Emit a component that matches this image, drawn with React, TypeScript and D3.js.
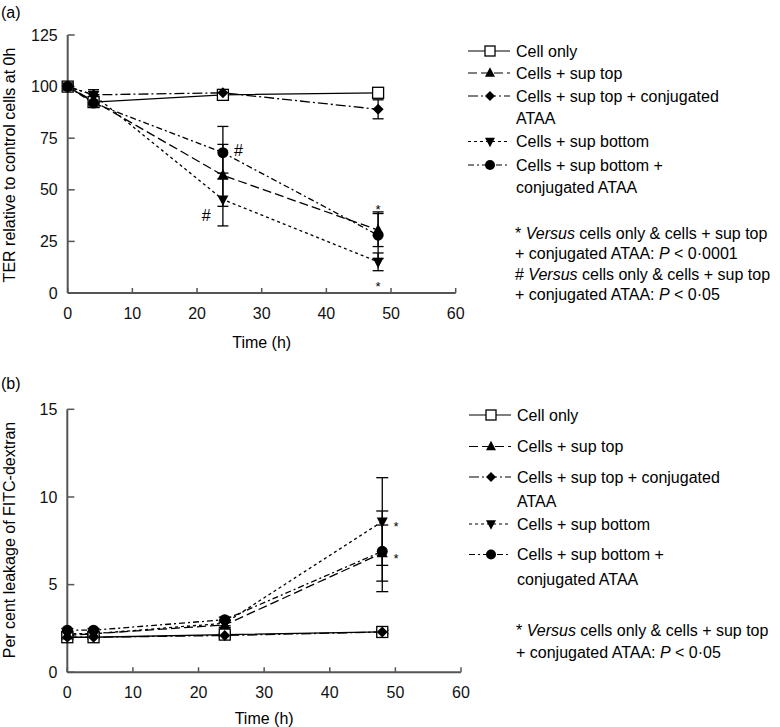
import React from 'react';
import * as d3 from 'd3';

const times = [0, 4, 24, 48];
const xTicks = [0, 10, 20, 30, 40, 50, 60];

const seriesLabels = [
  ['Cell only'],
  ['Cells + sup top'],
  ['Cells + sup top + conjugated', 'ATAA'],
  ['Cells + sup bottom'],
  ['Cells + sup bottom +', 'conjugated ATAA'],
];

// Panel (a): TER relative to control cells at 0 h
const terCellOnly = [100, 92.5, 96, 97];
const terSupTop = [100, 93, 57, 30.5];
const terSupTopConj = [100, 96, 97, 89];
const terSupBottom = [100, 96, 45.3, 15.1];
const terSupBottomConj = [100, 92, 68, 28];
const terErrCellOnly = [0, 1.5, 1.2, 1];
const terErrSupTop = [0, 2, 15, 8];
const terErrSupTopConj = [0, 1.5, 1, 4.6];
const terErrSupBottom = [0, 2.5, 12.8, 4.3];
const terErrSupBottomConj = [0, 2, 12.7, 11.3];
const terTicks = [0, 25, 50, 75, 100, 125];
const terAnnotations = [
  { t: 26.4, v: 69.3, label: '#' },
  { t: 21.4, v: 37.8, label: '#' },
  { t: 48, v: 42.3, label: '*' },
  { t: 48, v: 4.9, label: '*' },
];

// Panel (b): per cent leakage of FITC-dextran
const leakCellOnly = [2.0, 2.0, 2.15, 2.3];
const leakSupTop = [2.1, 2.2, 2.7, 6.8];
const leakSupTopConj = [2.0, 2.0, 2.1, 2.3];
const leakSupBottom = [2.2, 2.2, 2.8, 8.6];
const leakSupBottomConj = [2.4, 2.4, 3.0, 6.9];
const leakErrCellOnly = [0.1, 0.1, 0.1, 0.1];
const leakErrSupTop = [0.1, 0.1, 0.15, 1.6];
const leakErrSupTopConj = [0.1, 0.1, 0.1, 0.1];
const leakErrSupBottom = [0.1, 0.1, 0.15, 2.5];
const leakErrSupBottomConj = [0.1, 0.1, 0.15, 2.3];
const leakTicks = [0, 5, 10, 15];
const leakAnnotations = [
  { t: 50.1, v: 8.5, label: '*' },
  { t: 50.1, v: 6.7, label: '*' },
];

type Shape = 'square' | 'triUp' | 'diamond' | 'triDown' | 'circle';
const shapes: Shape[] = ['square', 'triUp', 'diamond', 'triDown', 'circle'];
const dashes = ['', '9,4', '10,3,2,3', '3,3', '6,3,2,3'];

const FONT = '"Liberation Sans", Arial, Helvetica, sans-serif';
const AXIS = '#555';

function Marker({ shape, x, y, s }: { shape: Shape; x: number; y: number; s: number }) {
  const h = s / 2;
  switch (shape) {
    case 'square':
      return <rect x={x - h} y={y - h} width={s} height={s} fill="#fff" stroke="#000" strokeWidth={1.3} />;
    case 'triUp':
      return <path d={`M${x},${y - h * 1.15}L${x + h},${y + h * 0.75}L${x - h},${y + h * 0.75}Z`} fill="#000" />;
    case 'triDown':
      return <path d={`M${x},${y + h * 1.15}L${x + h},${y - h * 0.75}L${x - h},${y - h * 0.75}Z`} fill="#000" />;
    case 'diamond':
      return <path d={`M${x},${y - h}L${x + h},${y}L${x},${y + h}L${x - h},${y}Z`} fill="#000" />;
    default:
      return <circle cx={x} cy={y} r={h} fill="#000" />;
  }
}

interface PanelProps {
  tag: string;
  tagY: number;
  xRange: [number, number];
  yRange: [number, number];
  yMax: number;
  yTicks: number[];
  yTitle: string;
  yTitleY: number;
  series: number[][];
  errors: number[][];
  annotations: { t: number; v: number; label: string }[];
  legendRows: number[];
  legendGap: number;
  legendX0: number;
  footnotes: { sym: string; p: string }[];
  footY: number[];
  titleY: number;
  markerSize: number;
  capW: number;
}

function Panel(p: PanelProps) {
  const x = d3.scaleLinear().domain([0, 60]).range(p.xRange);
  const y = d3.scaleLinear().domain([0, p.yMax]).range(p.yRange);
  const line = d3
    .line<number>()
    .x((_, i) => x(times[i]))
    .y((d) => y(d));
  const lx0 = p.legendX0;
  const lx1 = lx0 + 42;
  const lxm = lx0 + 22;
  const tx = lx0 + 48;
  return (
    <g fontFamily={FONT} fill="#000">
      <text x={1} y={p.tagY} fontSize={16} dy="0.35em">{p.tag}</text>
      {/* axes */}
      <line x1={x(0)} x2={x(0)} y1={y(0)} y2={y(p.yMax)} stroke={AXIS} strokeWidth={2} />
      <line x1={x(0)} x2={x(60)} y1={y(0)} y2={y(0)} stroke={AXIS} strokeWidth={2} />
      {p.yTicks.map((t) => (
        <g key={'yt' + t}>
          <line x1={x(0)} x2={x(0) + 7} y1={y(t)} y2={y(t)} stroke={AXIS} strokeWidth={1.5} />
          <text x={x(0) - 10} y={y(t)} dy="0.35em" textAnchor="end" fontSize={16} fill="#111">{t}</text>
        </g>
      ))}
      {xTicks.map((t) => (
        <g key={'xt' + t}>
          <line x1={x(t)} x2={x(t)} y1={y(0)} y2={y(0) - 5} stroke={AXIS} strokeWidth={1.5} />
          <text x={x(t)} y={y(0) + 20} dy="0.35em" textAnchor="middle" fontSize={16} fill="#111">{t}</text>
        </g>
      ))}
      <text x={(x(0) + x(60)) / 2} y={p.titleY} dy="0.35em" textAnchor="middle" fontSize={16}>Time (h)</text>
      <text transform={`translate(15,${p.yTitleY}) rotate(-90)`} textAnchor="middle" fontSize={16}>{p.yTitle}</text>
      {/* series lines */}
      {p.series.map((s, i) => (
        <path key={'l' + i} d={line(s) || ''} fill="none" stroke="#000" strokeWidth={1.3} strokeDasharray={dashes[i] || undefined} />
      ))}
      {/* error bars */}
      {p.series.map((s, i) =>
        s.map((v, j) => {
          const e = p.errors[i][j];
          if (!e) return null;
          const cx = x(times[j]);
          return (
            <g key={`e${i}-${j}`} stroke="#000" strokeWidth={1.3}>
              <line x1={cx} x2={cx} y1={y(v - e)} y2={y(v + e)} />
              <line x1={cx - p.capW / 2} x2={cx + p.capW / 2} y1={y(v - e)} y2={y(v - e)} />
              <line x1={cx - p.capW / 2} x2={cx + p.capW / 2} y1={y(v + e)} y2={y(v + e)} />
            </g>
          );
        })
      )}
      {/* markers */}
      {p.series.map((s, i) =>
        s.map((v, j) => <Marker key={`m${i}-${j}`} shape={shapes[i]} x={x(times[j])} y={y(v)} s={p.markerSize} />)
      )}
      {/* annotations */}
      {p.annotations.map((a, i) => (
        <text
          key={'a' + i}
          x={x(a.t)}
          y={y(a.v)}
          textAnchor="middle"
          fontSize={a.label === '*' ? 13 : 16}
          dy={a.label === '*' ? '0.62em' : '0.36em'}
        >
          {a.label}
        </text>
      ))}
      {/* legend */}
      {seriesLabels.map((lines, i) => {
        const ry = p.legendRows[i];
        return (
          <g key={'lg' + i}>
            <line x1={lx0} x2={lx1} y1={ry} y2={ry} stroke="#000" strokeWidth={1.2} strokeDasharray={dashes[i] || undefined} />
            <Marker shape={shapes[i]} x={lxm} y={ry} s={10} />
            {lines.map((ln, k) => (
              <text key={k} x={tx} y={ry + k * p.legendGap} dy="0.35em" fontSize={16}>{ln}</text>
            ))}
          </g>
        );
      })}
      {p.footnotes.map((f, i) => (
        <g key={'fn' + i}>
          <text x={tx - 1} y={p.footY[i * 2]} dy="0.35em" fontSize={16}>
            {f.sym + ' '}<tspan fontStyle="italic">Versus</tspan> cells only &amp; cells + sup top
          </text>
          <text x={tx - 1} y={p.footY[i * 2 + 1]} dy="0.35em" fontSize={16}>
            + conjugated ATAA: <tspan fontStyle="italic">P</tspan> {'< ' + f.p}
          </text>
        </g>
      ))}
    </g>
  );
}

export default function App() {
  return (
    <svg width={780} height={727} style={{ position: 'absolute', left: 0, top: 0, background: '#fff' }}>
      <rect width={780} height={727} fill="#fff" />
      <Panel
        tag="(a)"
        tagY={12}
        xRange={[67.7, 455.7]}
        yRange={[293, 35]}
        yMax={125}
        yTicks={terTicks}
        yTitle="TER relative to control cells at 0h"
        yTitleY={165}
        series={[terCellOnly, terSupTop, terSupTopConj, terSupBottom, terSupBottomConj]}
        errors={[terErrCellOnly, terErrSupTop, terErrSupTopConj, terErrSupBottom, terErrSupBottomConj]}
        annotations={terAnnotations}
        legendRows={[51, 73, 96, 141.5, 165]}
        legendGap={22.5}
        legendX0={468}
        footnotes={[
          { sym: '*', p: '0·0001' },
          { sym: '#', p: '0·05' },
        ]}
        footY={[233, 253.5, 274, 294]}
        titleY={342}
        markerSize={11}
        capW={11}
      />
      <Panel
        tag="(b)"
        tagY={383}
        xRange={[67.3, 461]}
        yRange={[672.3, 409.3]}
        yMax={15}
        yTicks={leakTicks}
        yTitle="Per cent leakage of FITC-dextran"
        yTitleY={540}
        series={[leakCellOnly, leakSupTop, leakSupTopConj, leakSupBottom, leakSupBottomConj]}
        errors={[leakErrCellOnly, leakErrSupTop, leakErrSupTopConj, leakErrSupBottom, leakErrSupBottomConj]}
        annotations={leakAnnotations}
        legendRows={[415, 446.5, 477, 524, 554.5]}
        legendGap={24.5}
        legendX0={469}
        footnotes={[{ sym: '*', p: '0·05' }]}
        footY={[630, 652]}
        titleY={718}
        markerSize={11}
        capW={12}
      />
    </svg>
  );
}
